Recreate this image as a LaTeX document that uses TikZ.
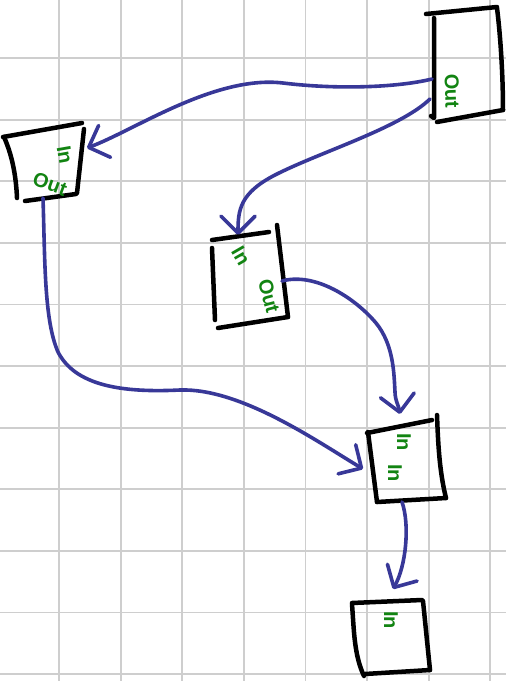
\documentclass[tikz,border=0pt]{standalone}
\usepackage{fontspec}
\setsansfont{Liberation Sans}
\usetikzlibrary{arrows.meta}
\definecolor{inkblue}{RGB}{56,56,152}
\definecolor{inkgreen}{RGB}{18,132,18}
\definecolor{gridgray}{RGB}{206,206,206}
\begin{document}
\begin{tikzpicture}[x=1pt,y=-1pt,
  gridline/.style={gridgray,line width=1.8pt},
  boxline/.style={black,line width=4.5pt,line cap=round,line join=round},
  wire/.style={inkblue,line width=3.6pt,line cap=round,line join=round,
    -{Straight Barb[length=17pt,width=34pt,round]}},
  lbl/.style={inkgreen,font=\sffamily\bfseries\fontsize{20}{20}\selectfont,inner sep=0pt}
]
\fill[white] (0,0) rectangle (506,681);
\useasboundingbox (0,0) rectangle (506,681);
% grid
\foreach \i in {0,...,7} \draw[gridline] ({59+61.6*\i},0) -- ({59+61.6*\i},681);
\foreach \j in {0,...,10} \draw[gridline] (0,{58+61.6*\j}) -- (506,{58+61.6*\j});

% box A (top right)
\draw[boxline] (426,14) -- (497,7);
\draw[boxline] (497,8) .. controls (501,40) and (503,80) .. (503,110);
\draw[boxline] (503,110) -- (437,122);
\draw[boxline] (434,18) -- (434,118) -- (431,116);
% box B (left)
\draw[boxline] (3,137) -- (82,123);
\draw[boxline] (84,129) -- (77,193);
\draw[boxline] (25,201) -- (76,194);
\draw[boxline] (4,137) .. controls (12,155) and (16,175) .. (17,198);
% box C (middle)
\draw[boxline] (212,240) -- (269,232);
\draw[boxline] (277,225) -- (288,317);
\draw[boxline] (218,328) -- (288,317);
\draw[boxline] (212,248) -- (215,320);
% box D
\draw[boxline] (367,433) -- (432,420);
\draw[boxline] (437,415) .. controls (438,440) and (439,470) .. (446,498);
\draw[boxline] (377,502) -- (446,498);
\draw[boxline] (368,432) -- (377,502);
% box E (bottom)
\draw[boxline] (352,603) -- (422,600);
\draw[boxline] (423,601) -- (430,670);
\draw[boxline] (365,674) -- (430,670);
\draw[boxline] (352,604) .. controls (354,630) and (354,655) .. (364,676);

% labels
\node[lbl,rotate=-88] (aOut) at (452,91) {Out};
\node[lbl,rotate=-80] (bIn) at (65,155) {In};
\node[lbl,rotate=-20] (bOut) at (50,184) {Out};
\node[lbl,rotate=-60] (cIn) at (241,256) {In};
\node[lbl,rotate=-75] (cOut) at (269,296) {Out};
\node[lbl,rotate=-90] (dIn1) at (404,442) {In};
\node[lbl,rotate=-90] (dIn2) at (395,473) {In};
\node[lbl,rotate=-90] (eIn) at (391,620) {In};

% ports
\coordinate (Aout1) at (432,79);
\coordinate (Aout2) at (430,99);
\coordinate (Bin) at (87,148);
\coordinate (Bout) at (43,198);
\coordinate (Cin) at (238,235);
\coordinate (Cout) at (282,281);
\coordinate (Din1) at (400,414);
\coordinate (Din2) at (363,469);
\coordinate (Dout) at (402,502);
\coordinate (Ein) at (393,589);

% connectors
\draw[wire] (Aout1) .. controls (400,87) and (340,90) .. (283,83)
  .. controls (215,75) and (135,130) .. (Bin);
\draw[wire] (Aout2) .. controls (400,128) and (320,152) .. (275,175)
  .. controls (240,193) and (238,210) .. (Cin);
\draw[wire] (Bout) .. controls (45,260) and (44,320) .. (58,352)
  .. controls (75,385) and (120,393) .. (180,390)
  .. controls (240,388) and (315,440) .. (Din2);
\draw[wire] (Cout) .. controls (315,272) and (355,298) .. (376,323)
  .. controls (394,345) and (394,375) .. (395,392)
  .. controls (395,400) and (399,407) .. (Din1);
\draw[wire] (Dout) .. controls (410,525) and (406,566) .. (Ein);
\end{tikzpicture}
\end{document}
